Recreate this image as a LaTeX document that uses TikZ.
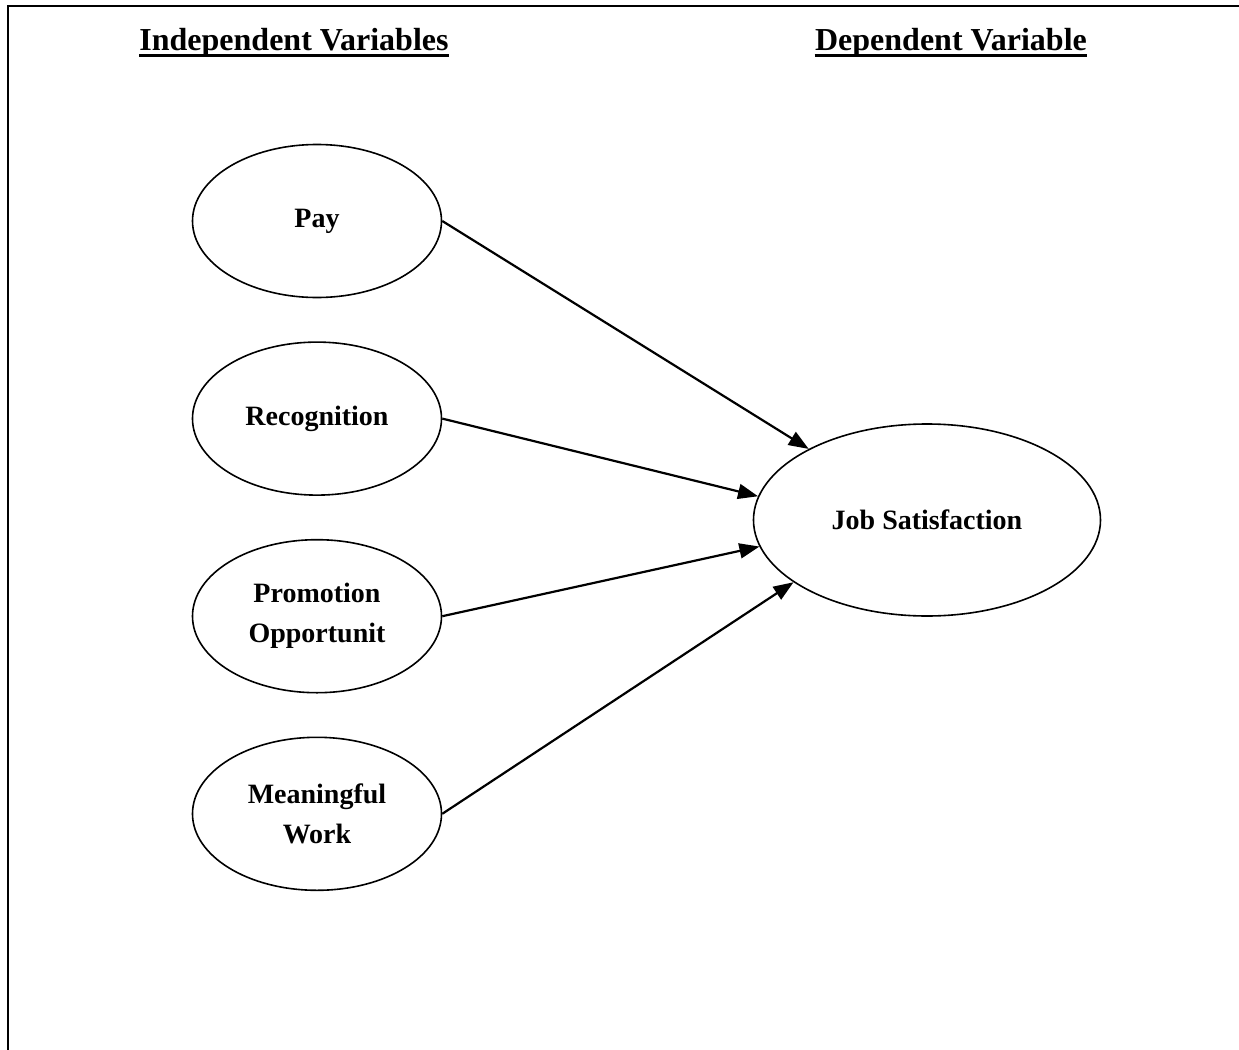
\documentclass[tikz,border=0pt]{standalone}
\usepackage{fontspec}
\setmainfont{Liberation Serif}
\usetikzlibrary{arrows.meta, shapes.geometric, positioning}
\tikzset{
  varnode/.style={ellipse, draw, line width=0.8pt, minimum width=124.5pt, minimum height=76.5pt, inner sep=0pt, align=center, font=\fontsize{14}{20}\selectfont\bfseries},
  headnode/.style={inner sep=0pt, anchor=base, font=\fontsize{16}{18}\selectfont\bfseries},
  link/.style={-{Triangle[length=10pt,width=7.5pt]}, line width=1.1pt}
}

\begin{document}
\begin{tikzpicture}[x=0.5pt, y=-0.5pt]
\useasboundingbox (0,0) rectangle (1239,1050);
% frame
\draw[line width=1pt] (8,1050) -- (8,6) -- (1239,6);
% headings
\node[headnode] (indep) at (294,50) {Independent Variables};
\node[headnode] (dep) at (951,50) {Dependent Variable};
\draw[line width=1.5pt] ([yshift=-2.8pt]indep.base west) -- ([yshift=-2.8pt]indep.base east);
\draw[line width=1.5pt] ([yshift=-2.8pt]dep.base west) -- ([yshift=-2.8pt]dep.base east);
% variables
\node[varnode] (pay) at (317,221) {Pay};
\node[varnode, below=21.5pt of pay] (recog) {Recognition};
\node[varnode, below=21.5pt of recog] (promo) {Promotion\\Opportunit};
\node[varnode, below=21.5pt of promo] (mwork) {Meaningful\\Work};
\node[varnode, minimum width=173.5pt, minimum height=96pt] (jobsat) at (927,520) {Job Satisfaction};
% links
\draw[link] (pay.east) -- (jobsat.149);
\draw[link] (recog.east) -- (jobsat.172);
\draw[link] (promo.east) -- (jobsat.189);
\draw[link] (mwork.east) -- (jobsat.205);
\end{tikzpicture}
\end{document}
